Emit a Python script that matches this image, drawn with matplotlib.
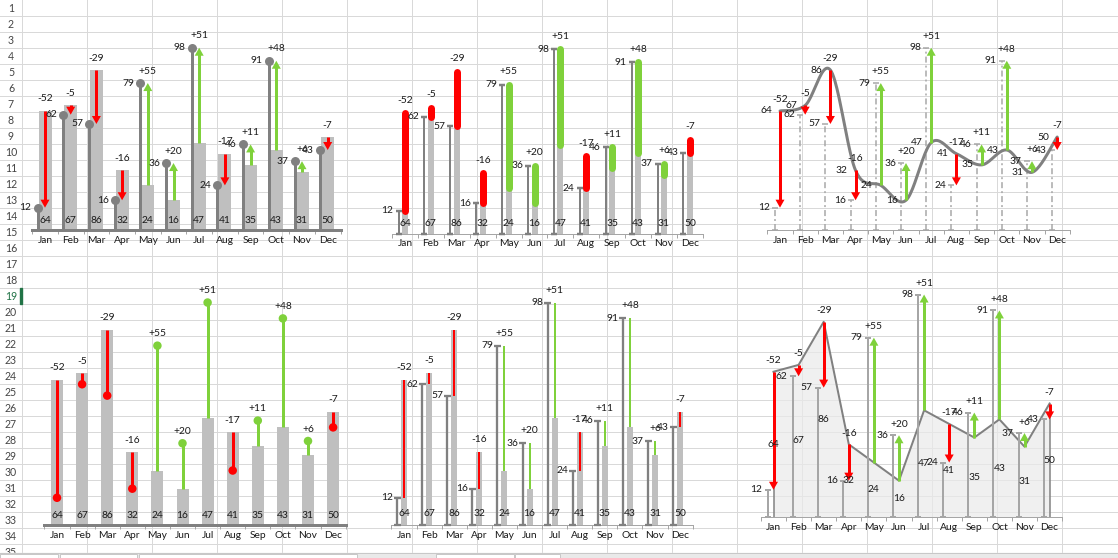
"""
plot.py
Seis variantes de grafico AC vs PY (estilo Excel) sobre una hoja de calculo.
"""

import numpy as np
import matplotlib
matplotlib.use("Agg")
import matplotlib.pyplot as plt
from matplotlib.patches import Polygon, Rectangle


# ---------------------------------------------------------------------------
# Datos
# ---------------------------------------------------------------------------

months = ["Jan", "Feb", "Mar", "Apr", "May", "Jun",
          "Jul", "Aug", "Sep", "Oct", "Nov", "Dec"]
py_values = [64, 67, 86, 32, 24, 16, 47, 41, 35, 43, 31, 50]   # PY
ac_values = [12, 62, 57, 16, 79, 36, 98, 24, 46, 91, 37, 43]   # AC
row_numbers = list(range(1, 36))

W, H = 1118, 558
PT = 0.72            # puntos por pixel (dpi=100)
RED = "#FF0000"
GREEN = "#7FD13B"
DARK = "#808080"
LIGHT = "#BFBFBF"
MID = "#A6A6A6"
GRID = "#D9D9D9"
TXT = "#1A1A1A"
FS = 7.4

plt.rcParams["font.family"] = ["Lato", "DejaVu Sans"]

x = np.arange(len(months))
py = np.array(py_values, dtype=float)
ac = np.array(ac_values, dtype=float)
delta = ac - py
colors = [GREEN if d > 0 else RED for d in delta]

fig = plt.figure(figsize=(W / 100, H / 100), dpi=100)


# ---------------------------------------------------------------------------
# Hoja de calculo de fondo
# ---------------------------------------------------------------------------

bg = fig.add_axes([0, 0, 1, 1])
bg.set_xlim(0, W)
bg.set_ylim(H, 0)
bg.axis("off")
for k in row_numbers:
    bg.axhline(16 * k - 0.5, color=GRID, lw=PT, zorder=1)
for xc in range(22, W, 65):
    bg.axvline(xc, color=GRID, lw=PT, zorder=1)
for k in row_numbers:
    c = "#217346" if k == 19 else "#444444"
    bg.text(11, 16 * k - 8, str(k), ha="center", va="center",
            fontsize=7.6, color=c, zorder=2)
bg.add_patch(Rectangle((19.5, 288), 2.5, 15.5, color="#217346", zorder=3))
# barra de pestanas inferior
bg.add_patch(Rectangle((0, 553), W, 5, color="#E9E9E9", zorder=5))
bg.axhline(553, color="#C8C8C8", lw=PT, zorder=6)
for x0, x1 in [(0, 58), (60, 137), (139, 357), (436, 514), (515, 560)]:
    bg.add_patch(Rectangle((x0, 553.5), x1 - x0, 5, fc="white",
                           ec="#C8C8C8", lw=PT, zorder=6))


# ---------------------------------------------------------------------------
# Utilidades
# ---------------------------------------------------------------------------

def make_axes(xjan, sp, y0, ppu, thick=False, ymax=118):
    """Ejes transparentes colocados en pixeles sobre la hoja."""
    left = xjan - 0.5 * sp
    ax = fig.add_axes([left / W, (H - y0) / H, 12 * sp / W, ymax * ppu / H])
    ax.set_xlim(-0.5, 11.5)
    ax.set_ylim(0, ymax)
    ax.patch.set_visible(False)
    for s in ("top", "right", "left"):
        ax.spines[s].set_visible(False)
    ax.spines["bottom"].set_color(DARK if thick else MID)
    ax.spines["bottom"].set_linewidth((3 if thick else 1) * PT)
    ax.set_yticks([])
    ax.set_xticks(x)
    ax.set_xticklabels(months, fontsize=FS, color=TXT)
    ax.tick_params(axis="x", which="major", length=0, pad=4)
    ax.set_xticks(np.arange(-0.5, 12, 1), minor=True)
    ax.tick_params(axis="x", which="minor", length=4 * PT, width=PT,
                   color=MID, direction="out")
    return ax


def arrow(ax, xi, y_from, y_to, sp, ppu, color,
          shaft=3, head_w=9, head_l=8):
    sgn = 1 if y_to > y_from else -1
    hl = min(head_l / ppu, abs(y_to - y_from))
    base = y_to - sgn * hl
    ax.plot([xi, xi], [y_from, base + sgn * 0.2 * hl], color=color,
            lw=shaft * PT, solid_capstyle="butt", zorder=5)
    hw = head_w / sp / 2
    ax.add_patch(Polygon([(xi - hw, base), (xi + hw, base), (xi, y_to)],
                         closed=True, fc=color, ec="none", zorder=5))


def label(ax, xi, yi, s, dx=0, dy=0, ha="center"):
    ax.annotate(s, (xi, yi), xytext=(dx * PT, dy * PT),
                textcoords="offset points", ha=ha, va="center",
                fontsize=FS, color=TXT, annotation_clip=False, zorder=8)


def delta_labels(ax, gap):
    for i in x:
        label(ax, i, max(py[i], ac[i]), f"{int(delta[i]):+d}", dy=gap)


def py_bottom_labels(ax, gap=9.5):
    for i in x:
        label(ax, i, 0, f"{int(py[i])}", dy=gap)


def ac_left_labels(ax, xs, gap):
    for i in x:
        label(ax, xs[i], ac[i], f"{int(ac[i])}", dx=-gap, ha="right")


def t_bars(ax, xs, sp, color, lw, cap_w, cap_lw):
    ax.vlines(xs, 0, ac, color=color, lw=lw * PT, zorder=3)
    ax.hlines(ac, xs - cap_w / sp / 2, xs + cap_w / sp / 2,
              color=color, lw=cap_lw * PT, zorder=3)
    ax.hlines(np.zeros(12), xs - cap_w / sp / 2, xs + cap_w / sp / 2,
              color=color, lw=cap_lw * PT, zorder=3, clip_on=False)


def smooth(xs, ys, n=24):
    """Curva suavizada tipo Excel (Catmull-Rom en Bezier)."""
    P = np.column_stack([xs, ys]).astype(float)
    out = []
    t = np.linspace(0, 1, n)[:, None]
    for i in range(len(P) - 1):
        p0 = P[max(i - 1, 0)]
        p1, p2 = P[i], P[i + 1]
        p3 = P[min(i + 2, len(P) - 1)]
        c1 = p1 + (p2 - p0) / 6
        c2 = p2 - (p3 - p1) / 6
        seg = ((1 - t) ** 3 * p1 + 3 * (1 - t) ** 2 * t * c1
               + 3 * (1 - t) * t ** 2 * c2 + t ** 3 * p2)
        out.append(seg if i == 0 else seg[1:])
    return np.vstack(out)


# ---------------------------------------------------------------------------
# 1) Barras PY + piruleta AC + flechas
# ---------------------------------------------------------------------------

sp, ppu = 25.7, 1.86
ax1 = make_axes(45, sp, 230, ppu, thick=True)
ax1.bar(x, py, width=13 / sp, color=LIGHT, zorder=2)
xa = x - 7.5 / sp
ax1.vlines(xa, 0, ac, color=DARK, lw=3 * PT, zorder=3)
ax1.plot(xa, ac, "o", ms=9 * PT, color=DARK, mec="none", zorder=4)
for i in x:
    arrow(ax1, i, py[i], ac[i], sp, ppu, colors[i])
ac_left_labels(ax1, xa, 6)
py_bottom_labels(ax1, 9.5)
delta_labels(ax1, 12)


# ---------------------------------------------------------------------------
# 2) T de AC + barra fina PY + tramo redondeado de variacion
# ---------------------------------------------------------------------------

sp, ppu = 25.9, 1.88
ax2 = make_axes(405, sp, 233.5, ppu)
ax2.bar(x, py, width=6 / sp, color=LIGHT, zorder=2)
for i in x:
    ax2.plot([i, i], [py[i], ac[i]], color=colors[i], lw=7 * PT,
             solid_capstyle="round", zorder=4)
xt = x - 6.5 / sp
t_bars(ax2, xt, sp, DARK, 2, 6, 2.5)
ac_left_labels(ax2, xt, 5)
py_bottom_labels(ax2, 10)
delta_labels(ax2, 13)


# ---------------------------------------------------------------------------
# 3) Linea suavizada PY + AC punteado + flechas
# ---------------------------------------------------------------------------

sp, ppu = 25.2, 1.86
ax3 = make_axes(780, sp, 230, ppu)
xd = x - 5 / sp
ax3.vlines(xd, 0, ac, color=MID, lw=1.5 * PT, zorder=2,
           linestyles=[(0, (4, 2, 1.3, 2))])
ax3.hlines(ac, xd - 3 / sp, xd + 3 / sp, color=MID, lw=1.5 * PT, zorder=2)
ax3.hlines(np.zeros(12), xd - 3 / sp, xd + 3 / sp, color=MID,
           lw=1.5 * PT, zorder=2, clip_on=False)
curve = smooth(x, py)
ax3.plot(curve[:, 0], curve[:, 1], color=DARK, lw=3 * PT, zorder=3,
         solid_capstyle="round")
for i in x:
    arrow(ax3, i, py[i], ac[i], sp, ppu, colors[i])
for i in x:
    label(ax3, i, py[i], f"{int(py[i])}", dx=-8, ha="right")
ac_left_labels(ax3, xd, 5)
delta_labels(ax3, 11.5)


# ---------------------------------------------------------------------------
# 4) Barras PY + piruleta de variacion
# ---------------------------------------------------------------------------

sp, ppu = 25.1, 2.27
ax4 = make_axes(57, sp, 525, ppu, thick=True)
ax4.bar(x, py, width=12 / sp, color=LIGHT, zorder=2)
for i in x:
    ax4.plot([i, i], [py[i], ac[i]], color=colors[i], lw=3 * PT,
             solid_capstyle="butt", zorder=4)
ax4.scatter(x, ac, s=(8.5 * PT) ** 2, c=colors, edgecolors="none", zorder=5)
py_bottom_labels(ax4, 10)
delta_labels(ax4, 11.8)


# ---------------------------------------------------------------------------
# 5) T de AC + barra fina PY + linea fina de variacion
# ---------------------------------------------------------------------------

sp, ppu = 25.1, 2.27
ax5 = make_axes(404, sp, 525, ppu)
ax5.bar(x, py, width=6 / sp, color=LIGHT, zorder=2)
for i in x:
    ax5.plot([i, i], [py[i], ac[i]], color=colors[i], lw=2 * PT,
             solid_capstyle="butt", zorder=4)
xt5 = x - 7 / sp
t_bars(ax5, xt5, sp, DARK, 2.3, 7, 2.3)
ac_left_labels(ax5, xt5, 4)
py_bottom_labels(ax5, 11)
delta_labels(ax5, 12.5)


# ---------------------------------------------------------------------------
# 6) Area PY + T de AC + flechas
# ---------------------------------------------------------------------------

sp, ppu = 25.1, 2.27
ax6 = make_axes(773.5, sp, 517, ppu)
ax6.fill_between(x, py, 0, color="#EBEBEB", alpha=0.7, lw=0, zorder=1)
ax6.plot(x, py, color=DARK, lw=2 * PT, zorder=2)
ax6.vlines([x[0], x[-1]], 0, [py[0], py[-1]], color=DARK, lw=1.5 * PT,
           zorder=2)
xt6 = x - 6 / sp
t_bars(ax6, xt6, sp, MID, 2, 6, 2)
for i in x:
    arrow(ax6, i, py[i], ac[i], sp, ppu, colors[i])
for i in x:
    label(ax6, i, py[i] / 2, f"{int(py[i])}")
ac_left_labels(ax6, xt6, 5)
delta_labels(ax6, 11)

fig.savefig("out.png", dpi=100)
